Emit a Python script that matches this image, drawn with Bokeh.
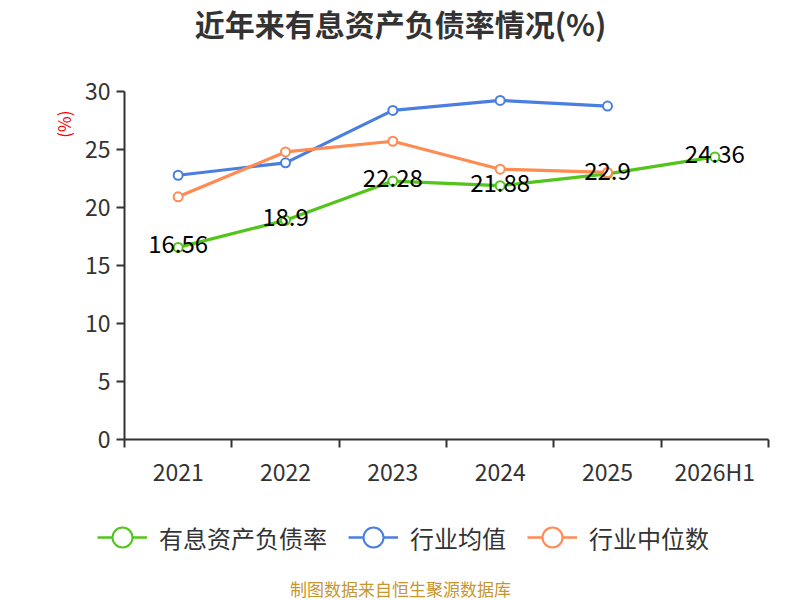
from bokeh.plotting import figure
from bokeh.layouts import column
from bokeh.models import (Range1d, FixedTicker, Label, Legend, LegendItem,
                          ColumnDataSource, LinearAxis, Title)
from bokeh.core.properties import value
from bokeh.embed import file_html
from bokeh.resources import INLINE

# ---- data ----
categories = ["2021", "2022", "2023", "2024", "2025", "2026H1"]
debt_ratio = [16.56, 18.9, 22.28, 21.88, 22.9, 24.36]
industry_avg = [22.78, 23.85, 28.37, 29.23, 28.74]
industry_median = [20.92, 24.79, 25.71, 23.30, 23.02]
y_ticks = [0, 5, 10, 15, 20, 25, 30]

series_names = ["有息资产负债率", "行业均值", "行业中位数"]
colors = ["#52c41a", "#4a7ee0", "#ff8a52"]

FONT = "Noto Sans CJK SC"
LEFT = 124  # frame left edge of the chart

def strip(height, left):
    f = figure(width=800, height=height, output_backend="svg", toolbar_location=None,
               x_range=Range1d(0, 1), y_range=Range1d(100, 101),
               min_border_left=left, min_border_right=32 if left else 0,
               min_border_top=0, min_border_bottom=0,
               x_axis_type=None, y_axis_type=None)
    f.outline_line_color = None
    f.xgrid.grid_line_color = None
    f.ygrid.grid_line_color = None
    return f

# ---- title strip ----
t = strip(44, LEFT)
t.add_layout(Label(x=400 - LEFT, y=22, x_units="screen", y_units="screen",
                   text="近年来有息资产负债率情况(%)", text_align="center",
                   text_baseline="middle", text_font=FONT, text_font_size="30px",
                   text_font_style="bold", text_color="#333333"))

# ---- main chart ----
p = figure(width=800, height=446, output_backend="svg", toolbar_location=None,
           x_range=Range1d(0, len(categories)), y_range=Range1d(0, 30),
           min_border_left=LEFT, min_border_right=32, min_border_top=47,
           min_border_bottom=50, x_axis_type=None, y_axis_type=None)
p.outline_line_color = None
p.background_fill_color = "white"
p.border_fill_color = "white"

centers = [i + 0.5 for i in range(len(categories))]

xaxis = LinearAxis(ticker=FixedTicker(ticks=centers,
                                      minor_ticks=list(range(len(categories) + 1))))
xaxis.major_label_overrides = {c: lab for c, lab in zip(centers, categories)}
xaxis.major_tick_line_color = None
xaxis.minor_tick_in = 0
xaxis.minor_tick_out = 8
xaxis.minor_tick_line_color = "#333333"
xaxis.minor_tick_line_width = 2
xaxis.axis_line_color = "#333333"
xaxis.axis_line_width = 2
xaxis.major_label_text_font = FONT
xaxis.major_label_text_font_size = "23px"
xaxis.major_label_text_color = "#333333"
xaxis.major_label_standoff = 6
p.add_layout(xaxis, "below")

yaxis = LinearAxis(ticker=FixedTicker(ticks=y_ticks))
yaxis.major_tick_in = 0
yaxis.major_tick_out = 8
yaxis.minor_tick_line_color = None
yaxis.major_tick_line_color = "#333333"
yaxis.major_tick_line_width = 2
yaxis.axis_line_color = "#333333"
yaxis.axis_line_width = 2
yaxis.major_label_text_font = FONT
yaxis.major_label_text_font_size = "23px"
yaxis.major_label_text_color = "#333333"
yaxis.major_label_standoff = 6
p.add_layout(yaxis, "left")

unit = Title(text="(%)", align="right", offset=19, standoff=12,
             text_font=FONT, text_font_size="17px", text_font_style="normal",
             text_color="red")
p.add_layout(unit, "left")

p.ygrid.ticker = FixedTicker(ticks=y_ticks[1:])
p.ygrid.grid_line_color = "#c8c8c8"
p.ygrid.grid_line_dash = "6 5"
p.ygrid.grid_line_width = 1.5
p.xgrid.grid_line_color = None

sources = []
for vals, col in zip([debt_ratio, industry_avg, industry_median], colors):
    src = ColumnDataSource(dict(x=centers[:len(vals)], y=vals))
    sources.append(src)
    p.line("x", "y", source=src, line_color=col, line_width=3.2)
    p.scatter("x", "y", source=src, size=9, marker="circle",
              fill_color="white", line_color=col, line_width=2)

lab_src = ColumnDataSource(dict(x=centers, y=debt_ratio,
                                t=[f"{v:g}" for v in debt_ratio]))
p.text("x", "y", text="t", source=lab_src, text_align="center",
       text_baseline="middle", text_font=value(FONT), text_font_size="24px",
       text_color="black", y_offset=-3)

# ---- legend + footer strip (same series, kept out of its view) ----
can_unalign = "frame_align" in figure().properties()
q_left = 0 if can_unalign else LEFT
q = strip(110, q_left)
if can_unalign:
    q.frame_align = False

legend_items = []
for name, col, src in zip(series_names, colors, sources):
    ln = q.line("x", "y", source=src, line_color=col, line_width=2.5)
    sc = q.scatter("x", "y", source=src, marker="circle", fill_color="white",
                   line_color=col, line_width=2)
    legend_items.append(LegendItem(label=name, renderers=[ln, sc]))

legend = Legend(items=legend_items, orientation="horizontal",
                location=(max(97 - q_left, 0), 38), padding=0, spacing=21, margin=0,
                glyph_width=50, glyph_height=50, label_standoff=12,
                label_text_font=FONT, label_text_font_size="24px",
                label_text_color="#333333", border_line_color=None,
                background_fill_alpha=0)
q.add_layout(legend, "center")

q.add_layout(Label(x=400 - q_left, y=12, x_units="screen", y_units="screen",
                   text="制图数据来自恒生聚源数据库", text_align="center",
                   text_baseline="middle", text_font=FONT, text_font_size="17px",
                   text_color="#c8962e"))

layout = column(t, p, q, spacing=0)
open("out.html", "w").write(file_html(layout, INLINE))
